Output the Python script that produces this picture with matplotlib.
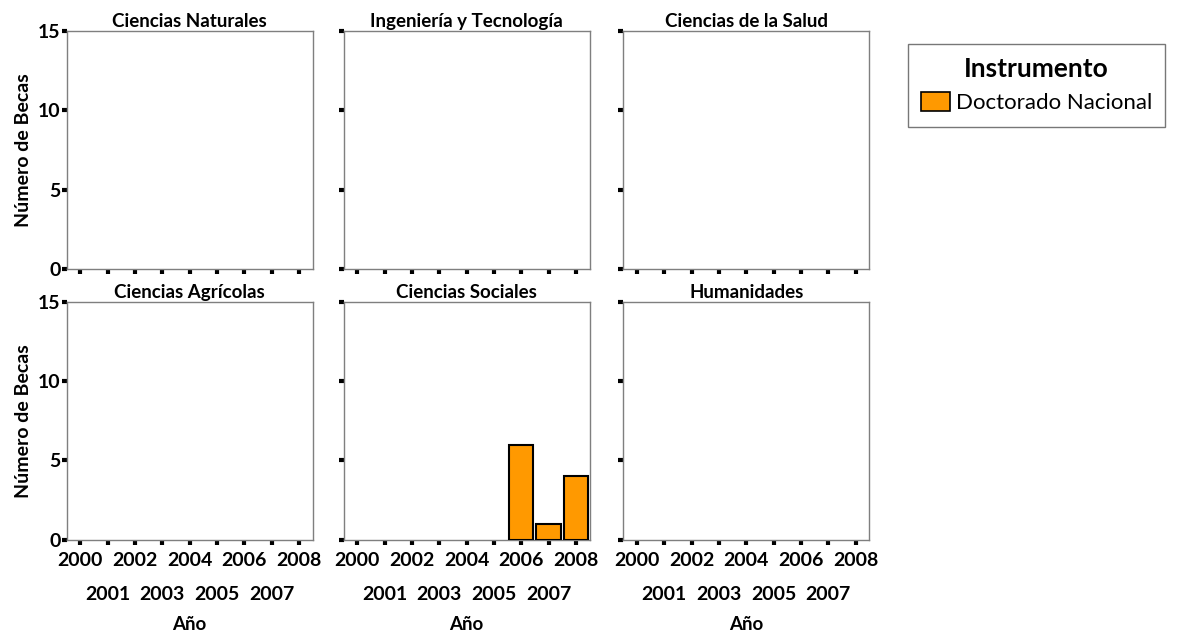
import numpy as np
import matplotlib
matplotlib.use('Agg')
import matplotlib.pyplot as plt
from matplotlib.patches import Patch

plt.rcParams['font.family'] = ['Lato', 'DejaVu Sans']
plt.rcParams['font.weight'] = 'bold'

# Data
years = [2000, 2001, 2002, 2003, 2004, 2005, 2006, 2007, 2008]
areas = ['Ciencias Naturales', 'Ingeniería y Tecnología', 'Ciencias de la Salud',
         'Ciencias Agrícolas', 'Ciencias Sociales', 'Humanidades']
becas = {
    'Ciencias Naturales':      [0, 0, 0, 0, 0, 0, 0, 0, 0],
    'Ingeniería y Tecnología': [0, 0, 0, 0, 0, 0, 0, 0, 0],
    'Ciencias de la Salud':    [0, 0, 0, 0, 0, 0, 0, 0, 0],
    'Ciencias Agrícolas':      [0, 0, 0, 0, 0, 0, 0, 0, 0],
    'Ciencias Sociales':       [0, 0, 0, 0, 0, 0, 6, 1, 4],
    'Humanidades':             [0, 0, 0, 0, 0, 0, 0, 0, 0],
}
instrumento = 'Doctorado Nacional'
bar_color = '#FF9900'

W, H = 1182, 635
fig = plt.figure(figsize=(W / 100, H / 100), dpi=100)

col_left = [66.7, 343.5, 623.3]
row_top = [31, 301.7]
pw, ph = 246, 238

x = np.arange(len(years))
for i, area in enumerate(areas):
    r, c = divmod(i, 3)
    ax = fig.add_axes([col_left[c] / W, 1 - (row_top[r] + ph) / H, pw / W, ph / H])
    vals = np.array(becas[area])
    mask = vals > 0
    ax.bar(x[mask], vals[mask], width=0.88, color=bar_color,
           edgecolor='black', linewidth=1.5, zorder=3)
    ax.set_xlim(-0.5, len(years) - 0.5)
    ax.set_ylim(0, 15)
    ax.set_yticks([0, 5, 10, 15])
    for s in ax.spines.values():
        s.set_color('#7f7f7f')
        s.set_linewidth(1.0)

    # even years on first row, odd years on second row
    ax.set_xticks(x[::2])
    ax.set_xticks(x[1::2], minor=True)
    ax.tick_params(axis='both', which='both', length=3.5, width=3,
                   color='black', direction='out', labelsize=14)
    ax.tick_params(axis='y', pad=1)
    if r == 1:
        ax.tick_params(axis='x', which='major', pad=5)
        ax.tick_params(axis='x', which='minor', pad=30)
        ax.set_xticklabels([str(y) for y in years[::2]])
        ax.set_xticklabels([str(y) for y in years[1::2]], minor=True)
        ax.set_xlabel('Año', fontsize=13.5, fontweight='bold', labelpad=9)
    else:
        ax.set_xticklabels([])
        ax.set_xticklabels([], minor=True)
    if c == 0:
        ax.set_ylabel('Número de Becas', fontsize=14, fontweight='bold',
                      labelpad=4)
    else:
        ax.set_yticklabels([])
    ax.set_title(area, fontsize=13.5, fontweight='bold', pad=3)

handles = [Patch(facecolor=bar_color, edgecolor='black', linewidth=1.2,
                 label=instrumento)]
leg = fig.legend(handles=handles, loc='upper left',
                 bbox_to_anchor=(908 / W, 1 - 44 / H),
                 title='Instrumento',
                 prop={'size': 16, 'weight': 'normal'},
                 title_fontproperties={'size': 19, 'weight': 'bold'},
                 frameon=True, fancybox=False, edgecolor='#555555',
                 borderpad=0.6, handlelength=1.3, handleheight=0.9,
                 handletextpad=0.25, borderaxespad=0)
leg.get_frame().set_linewidth(1.0)

plt.savefig('out.png', dpi=100)
plt.close()
